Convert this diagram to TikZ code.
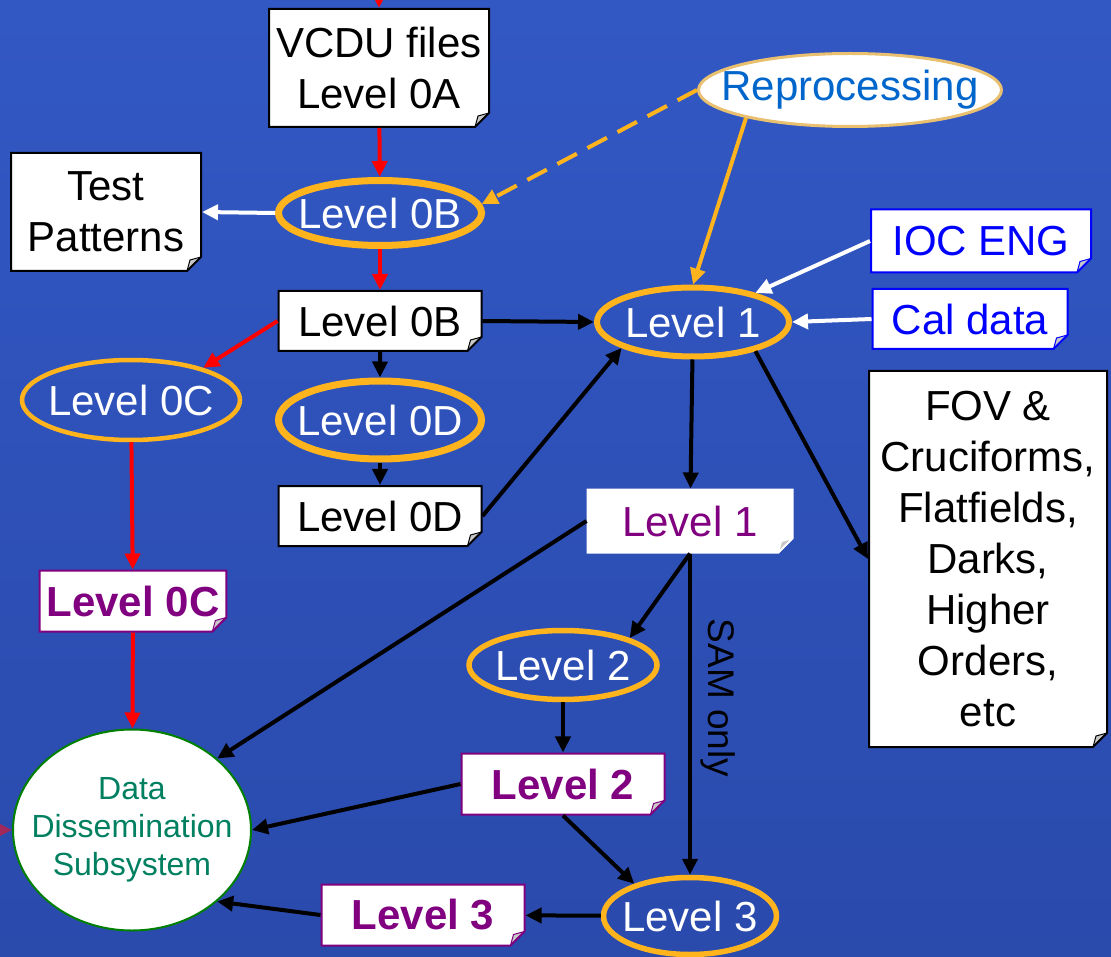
\documentclass[tikz,border=0pt]{standalone}
\usepackage{fontspec}
\setmainfont{Liberation Sans}
\usetikzlibrary{shapes.geometric,shapes.misc,arrows.meta}

\definecolor{bgtop}{RGB}{50,88,196}
\definecolor{bgmid}{RGB}{58,98,204}
\definecolor{bgbot}{RGB}{42,74,172}
\definecolor{lvorange}{RGB}{255,180,30}
\definecolor{lvpurple}{RGB}{128,0,128}
\definecolor{repblue}{RGB}{0,102,204}
\definecolor{repgold}{RGB}{232,192,112}
\definecolor{ddsgreen}{RGB}{0,128,0}
\definecolor{ddstext}{RGB}{0,128,96}
\definecolor{foldgray}{RGB}{200,200,200}
\definecolor{sidered}{RGB}{160,40,90}

\tikzset{
  big/.style={font=\fontsize{42}{51}\selectfont},
  doc/.style={chamfered rectangle, chamfered rectangle corners=south east,
    chamfered rectangle sep=7pt, draw=#1, line width=2pt, fill=white, inner sep=0pt,
    path picture={\fill[foldgray, draw=#1, line width=1pt]
      ([xshift=-14pt]path picture bounding box.south east)
      -- ([yshift=14pt]path picture bounding box.south east)
      -- ([xshift=-11pt,yshift=11pt]path picture bounding box.south east) -- cycle;}},
  doc/.default=black,
  lvbox/.style={doc=lvpurple, text=lvpurple, font=\bfseries\fontsize{42}{51}\selectfont,
    minimum width=203pt, minimum height=61pt},
  lvl/.style={ellipse, draw=lvorange, line width=#1, text=white, big,
    inner xsep=-30pt, inner ysep=0pt},
  link/.style={->, line width=4pt, black},
  redline/.style={->, line width=4pt, red},
  whiteline/.style={->, line width=4pt, white},
  orangeline/.style={->, line width=4pt, lvorange}
}

\begin{document}
\begin{tikzpicture}[x=1pt, y=-1pt, >={Triangle[length=16pt,width=15pt]}]
\useasboundingbox (0,0) rectangle (1111,957);
\shade[top color=bgtop, middle color=bgmid, bottom color=bgbot] (0,0) rectangle (1111,957);
\clip (0,0) rectangle (1111,957);

\node[doc, big, align=center, minimum width=220pt, minimum height=118pt] (vcdu) at (379,68) {VCDU files\\Level 0A};
\node[doc, big, align=center, minimum width=190pt, minimum height=118pt] (tests) at (106,212) {Test\\Patterns};
\node[ellipse, draw=repgold, line width=3pt, fill=white, text=repblue, big, inner xsep=-30pt, inner ysep=0pt,
  minimum width=303pt, minimum height=73pt] (repro) at (850,90) {Reprocessing};
\node[lvl=7pt, minimum width=203pt, minimum height=65pt] (l0Bell) at (380,213) {Level 0B};
\node[doc, big, minimum width=203pt, minimum height=60pt] (l0Bdoc) at (380,321) {Level 0B};
\node[lvl=6pt, minimum width=192pt, minimum height=69pt] (l1ell) at (693,322) {Level 1};
\node[doc=blue, text=blue, big, minimum width=220pt, minimum height=63pt] (ioc) at (981,241) {IOC ENG};
\node[doc=blue, text=blue, big, minimum width=195pt, minimum height=60pt] (cal) at (970,319) {Cal data};
\node[lvl=4.5pt, minimum width=218pt, minimum height=80pt] (l0Cell) at (131,400) {Level 0C};
\node[lvl=7pt, minimum width=203pt, minimum height=78pt] (l0Dell) at (380,420) {Level 0D};
\node[doc, big, minimum width=203pt, minimum height=60pt] (l0Ddoc) at (380,516) {Level 0D};
\node[doc, big, align=center, minimum width=238pt, minimum height=376pt] (fov) at (988,559)
  {FOV \&\\Cruciforms,\\Flatfields,\\Darks,\\Higher\\Orders,\\etc};
\node[doc=white, text=lvpurple, big, minimum width=205pt, minimum height=63pt] (l1doc) at (690,521) {Level 1};
\node[lvbox, minimum width=184pt] (l0Cdoc) at (133,601) {Level 0C};
\node[ellipse, draw=ddsgreen, line width=2pt, fill=white, text=ddstext, align=center,
  font=\fontsize{32}{38}\selectfont, inner xsep=-30pt, inner ysep=0pt,
  minimum width=238pt, minimum height=201pt] (dds) at (132,830) {Data\\Dissemination\\Subsystem};
\node[lvl=5.5pt, minimum width=188pt, minimum height=69pt] (l2ell) at (563,665) {Level 2};
\node[lvbox] (l2doc) at (563,784) {Level 2};
\node[lvl=5.5pt, minimum width=173pt, minimum height=77pt] (l3ell) at (690,916) {Level 3};
\node[lvbox] (l3doc) at (423,915) {Level 3};

\coordinate (feed) at (379,0);
\coordinate (side) at (0,830);

\draw[redline] (feed) -- (vcdu);
\draw[redline] (vcdu) -- (l0Bell);
\draw[redline] (l0Bell) -- (l0Bdoc);
\draw[whiteline] (l0Bell.west) -- (tests.east);
\draw[orangeline, dash pattern=on 22pt off 12pt] (repro.west) -- (l0Bell.5);
\draw[orangeline] (repro.195) -- (l1ell.north);
\draw[whiteline] (ioc.west) -- (l1ell.25);
\draw[whiteline] (cal.west) -- (l1ell.east);
\draw[link] (l0Bdoc.east) -- (l1ell.west);
\draw[redline] (l0Bdoc.west) -- (l0Cell.24);
\draw[link] (l0Bdoc) -- (l0Dell);
\draw[link] (l0Dell) -- (l0Ddoc);
\draw[link] (l0Ddoc.east) -- (l1ell.200);
\draw[link] (l1ell.-25) -- (fov.west);
\draw[link] (l1ell) -- (l1doc);
\draw[redline] (l0Cell) -- (l0Cdoc);
\draw[redline] (l0Cdoc) -- (dds);
\draw[link] (l1doc.west) -- (dds.40);
\draw[link] (l1doc.south) -- (l2ell.22);
\draw[link] (l1doc.south) -- (l3ell.north)
  node[pos=0.45, anchor=south, rotate=-90, inner sep=9pt, font=\fontsize{37}{44}\selectfont] {SAM only};
\draw[link] (l2ell) -- (l2doc);
\draw[link] (l2doc.west) -- (dds.east);
\draw[link] (l2doc.south) -- (l3ell.150);
\draw[link] (l3ell) -- (l3doc);
\draw[link] (l3doc.west) -- (dds.-40);
\draw[->, line width=4pt, sidered] (side) -- (dds.west);
\end{tikzpicture}
\end{document}
